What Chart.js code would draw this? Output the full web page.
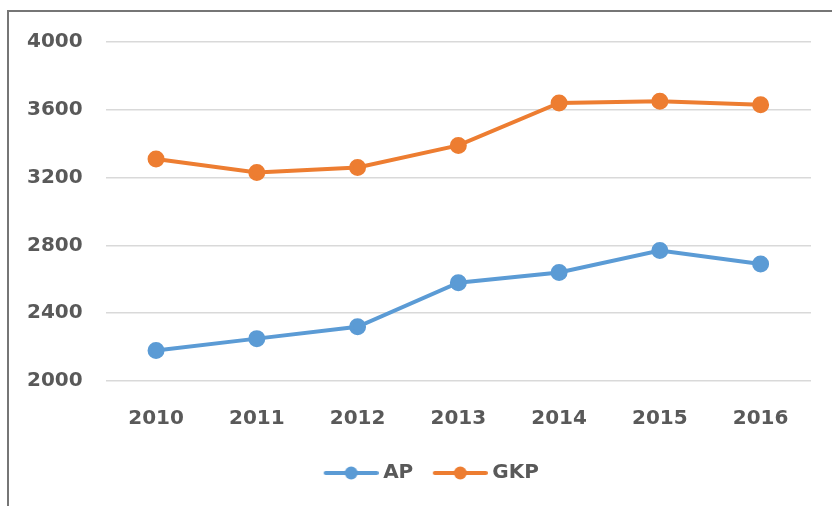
<!DOCTYPE html>
<html>
<head>
<meta charset="utf-8">
<script src="https://cdn.jsdelivr.net/npm/chart.js@4/dist/chart.umd.min.js"></script>
<style>
  html, body { margin: 0; padding: 0; background: #fff; overflow: hidden; }
  #frame { position: absolute; left: 7px; top: 10px; width: 1200px; height: 900px;
           border-left: 2px solid #767676; border-top: 2px solid #767676; }
  #wrap { position: absolute; left: 0; top: 0; width: 832px; height: 506px; }
</style>
</head>
<body>
<div id="frame"></div>
<div id="wrap"><canvas id="chart" width="832" height="506"></canvas></div>
<script>
const years = ['2010', '2011', '2012', '2013', '2014', '2015', '2016'];
const apValues = [2180, 2250, 2320, 2580, 2640, 2770, 2690];
const gkpValues = [3310, 3230, 3260, 3390, 3640, 3650, 3630];
const yTicks = [2000, 2400, 2800, 3200, 3600, 4000];

const blue = '#5B9BD5';
const orange = '#ED7D31';
const textColor = '#595959';
const font = { family: 'DejaVu Sans', weight: 'bold', size: 20 };

// line-with-dot legend icon, Excel style; drawn off-centre so the text sits close
function legendIcon(color) {
  const c = document.createElement('canvas');
  c.width = 66; c.height = 16;
  const g = c.getContext('2d');
  g.strokeStyle = color;
  g.lineWidth = 4;
  g.lineCap = 'round';
  g.beginPath(); g.moveTo(13, 8); g.lineTo(64, 8); g.stroke();
  g.fillStyle = color;
  g.beginPath(); g.arc(38.5, 8, 6.5, 0, Math.PI * 2); g.fill();
  return c;
}

// nudge the legend a bit right, like the original
const legendShift = {
  id: 'legendShift',
  afterLayout(chart) {
    chart.legend.left += 21;
    chart.legend.right += 21;
  }
};

const ctx = document.getElementById('chart').getContext('2d');
new Chart(ctx, {
  type: 'line',
  data: {
    labels: years,
    datasets: [
      { label: 'AP', data: apValues, borderColor: blue, backgroundColor: blue,
        borderWidth: 4, pointRadius: 6.5, pointHoverRadius: 6.5, tension: 0 },
      { label: 'GKP', data: gkpValues, borderColor: orange, backgroundColor: orange,
        borderWidth: 4, pointRadius: 6.5, pointHoverRadius: 6.5, tension: 0 }
    ]
  },
  options: {
    responsive: false,
    animation: false,
    layout: { padding: { left: 4, right: 21, top: 42, bottom: 13 } },
    plugins: {
      tooltip: { enabled: false },
      legend: {
        position: 'bottom',
        labels: {
          color: textColor,
          font: font,
          usePointStyle: true,
          pointStyleWidth: 55,
          padding: 14,
          generateLabels: chart => chart.data.datasets.map((ds, i) => ({
            text: ds.label,
            fontColor: textColor,
            pointStyle: legendIcon(ds.borderColor),
            datasetIndex: i,
            lineWidth: 0,
            strokeStyle: 'transparent',
            fillStyle: 'transparent'
          }))
        }
      }
    },
    scales: {
      x: {
        offset: true,
        grid: { display: false },
        border: { display: false },
        ticks: { color: textColor, font: font, padding: 18 }
      },
      y: {
        min: 2000,
        max: 4000,
        afterBuildTicks: axis => { axis.ticks = yTicks.map(v => ({ value: v })); },
        grid: { color: '#d9d9d9', lineWidth: 1.5, drawTicks: false },
        border: { display: false },
        ticks: { color: textColor, font: font, padding: 23, callback: v => String(v) }
      }
    }
  },
  plugins: [legendShift]
});
</script>
</body>
</html>
